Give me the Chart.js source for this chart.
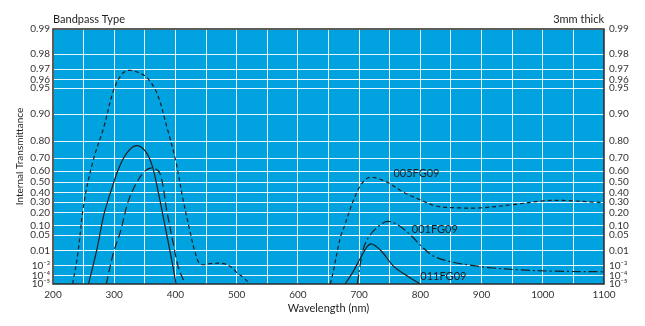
<!DOCTYPE html>
<html>
<head>
<meta charset="utf-8">
<script src="https://cdn.jsdelivr.net/npm/chart.js@4.4.1/dist/chart.umd.min.js"></script>
<style>
  html, body { margin: 0; padding: 0; background: #fff; }
</style>
</head>
<body>
<canvas id="transChart" width="645" height="326"></canvas>
<script>
// curves: wavelength (nm) / internal transmittance
const wl005a = [232, 240, 251, 266, 283, 299, 313, 324, 340, 354, 370, 386, 400, 413, 424, 432, 441, 460, 479, 493, 500, 511, 522];
const tr005a = [1e-5, 4.8e-3, 0.31, 0.69, 0.86, 0.947, 0.966, 0.969, 0.967, 0.962, 0.942, 0.86, 0.69, 0.31, 0.065, 8.5e-3, 1.3e-3, 1.5e-3, 1.4e-3, 6.4e-4, 2.3e-4, 6.6e-5, 1e-5];
const wl005b = [653, 658, 669, 677, 686, 694, 702, 710, 718, 729, 746, 773, 800, 827, 865, 898, 952, 1001, 1034, 1083, 1100];
const tr005b = [1e-5, 3.3e-4, 0.0385, 0.108, 0.245, 0.369, 0.466, 0.525, 0.547, 0.538, 0.50, 0.40, 0.324, 0.261, 0.245, 0.245, 0.277, 0.314, 0.318, 0.302, 0.297];

const wl001a = [287, 299, 310, 323, 337, 351, 364, 375, 386, 397, 405, 416];
const tr001a = [1e-5, 8.5e-3, 0.065, 0.31, 0.50, 0.605, 0.627, 0.577, 0.215, 0.0195, 6.4e-4, 1e-5];
const wl001b = [697, 707, 718, 732, 746, 762, 784, 800, 822, 854, 893, 914, 963, 1018, 1100];
const tr001b = [1e-5, 0.0133, 0.051, 0.098, 0.130, 0.108, 0.051, 0.0195, 4.8e-3, 1.8e-3, 8.9e-4, 6.4e-4, 4.1e-4, 3.1e-4, 2.7e-4];

const wl011a = [258, 272, 283, 294, 307, 321, 336, 351, 362, 372, 383, 394, 401];
const tr011a = [1e-5, 0.0133, 0.182, 0.40, 0.619, 0.736, 0.777, 0.745, 0.645, 0.40, 0.098, 2.5e-3, 1e-5];
const wl011b = [677, 691, 702, 718, 735, 756, 778, 800];
const tr011b = [1e-5, 3.3e-4, 3.5e-3, 0.0218, 0.0108, 8.9e-4, 1.05e-4, 1e-5];

// curve names and where they are written
const curveNames = ['005FG09', '001FG09', '011FG09'];
const nameWl = [756, 786, 800];
const nameTr = [0.58, 0.076, 8.5e-5];

const yTickVals = [0.99, 0.98, 0.97, 0.96, 0.95, 0.90, 0.80, 0.70, 0.60, 0.50, 0.40, 0.30, 0.20, 0.10, 0.05, 0.01, 1e-3, 1e-4, 1e-5];
const yTickLabels = ['0.99', '0.98', '0.97', '0.96', '0.95', '0.90', '0.80', '0.70', '0.60', '0.50', '0.40', '0.30', '0.20', '0.10', '0.05', '0.01', '10⁻³', '10⁻⁴', '10⁻⁵'];

// internal transmittance axis is a double-log scale: log(-log T)
function toAxis(t) { return Math.log10(-Math.log10(t)); }

function pts(wl, tr) { return wl.map((w, i) => ({ x: w, y: toAxis(tr[i]) })); }

const FONT = 'Lato, "Open Sans", sans-serif';
const INK = '#1e1e1e';

function curve(wl, tr, dash) {
  return {
    data: pts(wl, tr),
    borderColor: INK,
    borderWidth: 1.2,
    borderDash: dash,
    pointRadius: 0,
    fill: false,
    tension: 0.35
  };
}

const yTicks = {
  autoSkip: false,
  padding: 3,
  color: '#333',
  font: { family: FONT, size: 10 },
  callback: (v, i) => yTickLabels[i]
};
function setYTicks(scale) { scale.ticks = yTickVals.map(v => ({ value: toAxis(v) })); }

const plotDecor = {
  id: 'plotDecor',
  beforeDraw(chart) {
    const { ctx, chartArea: a } = chart;
    ctx.save();
    ctx.fillStyle = '#00a3df';
    ctx.fillRect(a.left, a.top, a.right - a.left, a.bottom - a.top);
    ctx.restore();
  },
  afterDraw(chart) {
    const { ctx, chartArea: a } = chart;
    const xs = chart.scales.x, ys = chart.scales.y;
    ctx.save();
    ctx.strokeStyle = '#2a2a2a';
    ctx.lineWidth = 1.5;
    ctx.strokeRect(a.left, a.top, a.right - a.left, a.bottom - a.top);

    ctx.fillStyle = INK;
    ctx.font = '11px ' + FONT;
    ctx.textBaseline = 'alphabetic';
    ctx.textAlign = 'left';
    ctx.fillText('Bandpass Type', a.left, 23);
    ctx.textAlign = 'right';
    ctx.fillText('3mm thick', a.right, 23);

    ctx.textAlign = 'left';
    ctx.textBaseline = 'middle';
    curveNames.forEach((n, i) => {
      ctx.fillText(n, xs.getPixelForValue(nameWl[i]), ys.getPixelForValue(toAxis(nameTr[i])));
    });
    ctx.restore();
  }
};

new Chart(document.getElementById('transChart'), {
  type: 'line',
  data: {
    datasets: [
      curve(wl005a, tr005a, [4, 3]),
      curve(wl005b, tr005b, [4, 3]),
      curve(wl001a, tr001a, [8, 4]),
      curve(wl001b, tr001b, [9, 3, 2, 3]),
      curve(wl011a, tr011a, []),
      curve(wl011b, tr011b, [])
    ]
  },
  options: {
    responsive: false,
    animation: false,
    layout: { padding: { top: 29, left: 0, right: 0, bottom: 0 } },
    plugins: { legend: { display: false }, tooltip: { enabled: false } },
    scales: {
      x: {
        type: 'linear',
        min: 200, max: 1100,
        grid: { color: 'rgba(255,255,255,0.9)', lineWidth: 1, drawTicks: false },
        border: { display: false },
        ticks: {
          stepSize: 50, autoSkip: false, maxRotation: 0, padding: 5,
          color: '#333', font: { family: FONT, size: 10 },
          callback: v => (v % 100 === 0 ? String(v) : '')
        },
        title: { display: true, text: 'Wavelength (nm)', color: INK, font: { family: FONT, size: 11 }, padding: { top: 0, bottom: 11 } },
        afterFit: s => { s.height = 42; }
      },
      y: {
        type: 'linear',
        position: 'left',
        reverse: true,
        min: toAxis(0.99), max: toAxis(1e-5),
        grid: { color: 'rgba(255,255,255,0.9)', lineWidth: 1, drawTicks: false },
        border: { display: false },
        afterBuildTicks: setYTicks,
        ticks: yTicks,
        title: { display: true, text: 'Internal Transmittance', color: INK, font: { family: FONT, size: 10 }, padding: { top: 14, bottom: 0 } },
        afterFit: s => { s.width = 53; }
      },
      y2: {
        type: 'linear',
        position: 'right',
        reverse: true,
        min: toAxis(0.99), max: toAxis(1e-5),
        grid: { display: false, drawTicks: false },
        border: { display: false },
        afterBuildTicks: setYTicks,
        ticks: Object.assign({}, yTicks, { padding: 5 }),
        afterFit: s => { s.width = 41; }
      }
    }
  },
  plugins: [plotDecor]
});
</script>
</body>
</html>
